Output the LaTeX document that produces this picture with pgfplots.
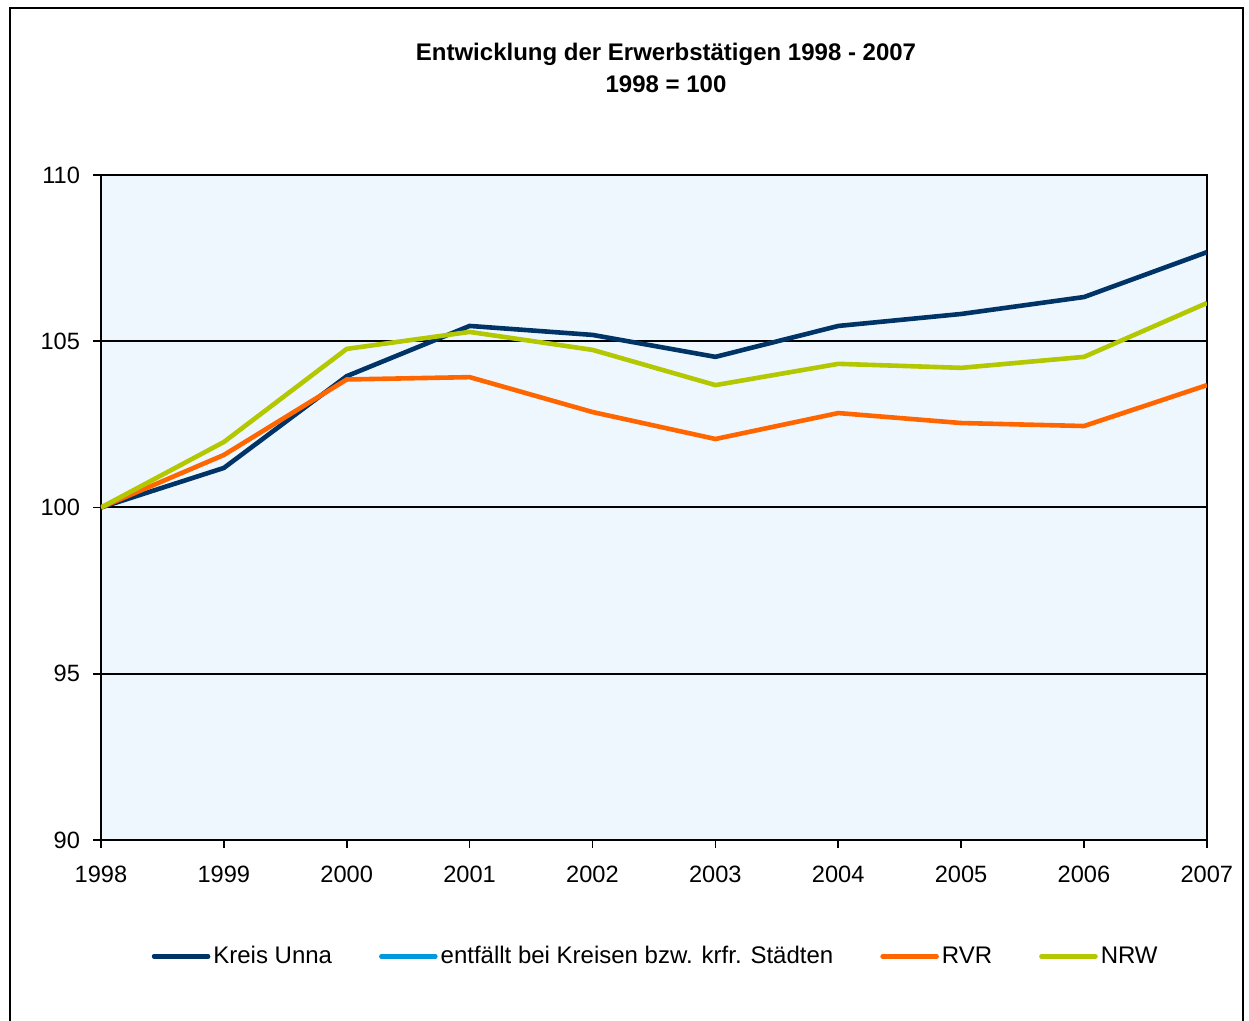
\documentclass[border=0pt]{standalone}
\usepackage{pgfplots}
\pgfplotsset{compat=1.18}
\usepackage{fontspec}
\setmainfont{Liberation Sans}
\definecolor{unna}{HTML}{003366}
\definecolor{entf}{HTML}{0099DD}
\definecolor{rvr}{HTML}{FF6600}
\definecolor{nrw}{HTML}{B3C800}
\definecolor{plotbg}{HTML}{EEF7FE}
\begin{document}
\begin{tikzpicture}
\useasboundingbox (0pt,0pt) rectangle (624.5pt,510.5pt);
\draw[line width=1pt] (5pt,0pt) -- (5pt,506.5pt) -- (621.5pt,506.5pt) -- (621.5pt,0pt);
\node[align=center, font=\fontsize{12}{16}\selectfont\bfseries] at (333pt,476.5pt) {Entwicklung der Erwerbstätigen 1998 - 2007\\1998 = 100};
\begin{axis}[
  at={(50.5pt,90.5pt)}, anchor=south west,
  width=553pt, height=332.5pt, scale only axis,
  xmin=1998, xmax=2007, ymin=90, ymax=110,
  xtick={1998,...,2007}, ytick={90,95,...,110},
  /pgf/number format/1000 sep={},
  /pgf/number format/assume math mode=true,
  tick label style={font=\fontsize{11.8}{13}\selectfont},
  tick align=outside, major tick length=4pt,
  xtick pos=bottom, ytick pos=left,
  tick style={black, line width=0.8pt},
  axis line style={black, line width=1pt},
  ymajorgrids, grid style={black, line width=1pt},
  axis background/.style={fill=plotbg},
  yticklabel style={xshift=-3pt},
  xticklabel style={yshift=-5.5pt},
  legend columns=4,
  legend style={at={(0.502,-0.175)}, anchor=center, draw=none, fill=none,
    font=\fontsize{12}{14}\selectfont, /tikz/every even column/.append style={column sep=22pt},
    /tikz/nodes={inner xsep=1.5pt}},
  legend image code/.code={\draw[#1, line cap=round] (0pt,0pt) -- (27pt,0pt);},
  every axis plot/.append style={line width=2.3pt},
]
\addplot[unna] coordinates {(1998,100) (1999,101.19) (2000,103.95) (2001,105.46) (2002,105.19) (2003,104.53) (2004,105.46) (2005,105.82) (2006,106.33) (2007,107.68)};
\addlegendentry{Kreis Unna}
\addlegendimage{entf, line width=2.3pt}
\addlegendentry{entfällt bei Kreisen bzw. krfr. Städten}
\addplot[rvr] coordinates {(1998,100) (1999,101.58) (2000,103.85) (2001,103.92) (2002,102.87) (2003,102.06) (2004,102.84) (2005,102.54) (2006,102.45) (2007,103.68)};
\addlegendentry{RVR}
\addplot[nrw] coordinates {(1998,100) (1999,101.97) (2000,104.77) (2001,105.28) (2002,104.74) (2003,103.68) (2004,104.32) (2005,104.2) (2006,104.53) (2007,106.15)};
\addlegendentry{NRW}
\end{axis}
\end{tikzpicture}
\end{document}
